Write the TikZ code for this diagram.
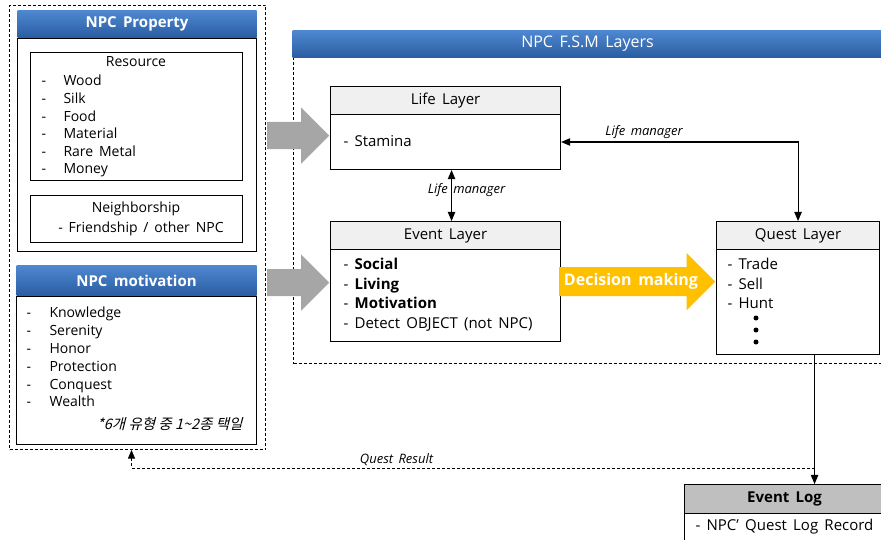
\documentclass[tikz,border=0pt]{standalone}
\usepackage{fontspec}
\setmainfont{Open Sans}[WordSpace=1.6]
\newfontfamily\krfont[FakeSlant=0.25]{Noto Sans CJK KR}
\usepackage{tikz}
\usetikzlibrary{shapes.arrows, arrows, positioning}

\definecolor{headtop}{RGB}{78,136,208}
\definecolor{headbot}{RGB}{42,93,162}
\definecolor{laygray}{RGB}{240,240,240}
\definecolor{loggray}{RGB}{191,191,191}
\definecolor{biggray}{RGB}{166,166,166}
\definecolor{decide}{RGB}{255,192,0}

\begin{document}
\begin{tikzpicture}[x=1pt, y=-1pt, line width=1.1pt,
  txt/.style={inner sep=0pt, text height=1.8ex, text depth=0pt, font=\fontsize{14}{16}\selectfont},
  item/.style={txt, anchor=west},
  bluehead/.style={rectangle, top color=headtop, bottom color=headbot, text=white, font=\bfseries\fontsize{15}{18}\selectfont, anchor=north west, inner sep=0pt},
  panel/.style={draw, rectangle, anchor=north west, inner sep=0pt},
  frame/.style={draw, line width=1pt, dash pattern=on 3pt off 2pt, rectangle, anchor=north west, inner sep=0pt},
  layhead/.style={draw, fill=laygray, rectangle, anchor=north, inner sep=0pt, minimum height=28pt, font=\fontsize{15}{17}\selectfont},
  laytxt/.style={item, font=\fontsize{15}{17}\selectfont},
  bigarr/.style={single arrow, fill=biggray, anchor=tip, inner xsep=0pt, inner ysep=13pt, minimum height=62pt, single arrow head extend=14.5pt},
  decarr/.style={single arrow, fill=decide, anchor=tip, inner xsep=0pt, inner ysep=14pt, minimum height=156pt, single arrow head extend=14pt},
  lbl/.style={inner sep=0pt, font=\itshape\fontsize{13}{15}\selectfont}
  ]
\useasboundingbox (0,0) rectangle (881,540);
\clip (0,0) rectangle (881,540);

% NPC property and motivation
\node[frame, minimum width=256pt, minimum height=444pt] (propframe) at (9,5) {};
\node[bluehead, minimum width=239pt, minimum height=27pt] (prophead) at (17,10) {NPC Property};
\node[panel, minimum width=239pt, minimum height=213pt, below=0pt of prophead] (propbody) {};
\node[panel, minimum width=212pt, minimum height=128pt] (resbox) at (30,52) {};
\node[txt] (restitle) at (136,62) {Resource};
\foreach \name [count=\i] in {Wood, Silk, Food, Material, Rare Metal, Money}
  \node[item] (res\i) at (41, 63.4+17.6*\i) {\makebox[22pt][l]{-}\name};
\node[panel, minimum width=212pt, minimum height=47pt] (nbbox) at (30,195) {};
\node[txt] (nbtitle) at (136,208) {Neighborship};
\node[txt] (nbitem) at (141,228) {- Friendship / other NPC};

\node[bluehead, minimum width=240pt, minimum height=30pt] (motihead) at (16,265) {NPC motivation};
\node[panel, minimum width=240pt, minimum height=148pt, below=0pt of motihead] (motibody) {};
\foreach \name [count=\i] in {Knowledge, Serenity, Honor, Protection, Conquest, Wealth}
  \node[item] (moti\i) at (26, 295.2+17.8*\i) {\makebox[23pt][l]{-}\name};
\node[inner sep=0pt, anchor=east, font=\krfont\fontsize{14.5}{16}\selectfont] (motinote) at (243,424) {*6개 유형 중 1\textasciitilde2종 택일};

% FSM layers
\node[frame, minimum width=592pt, minimum height=306pt] (fsmframe) at (293,57) {};
\node[bluehead, minimum width=590pt, minimum height=27pt, font=\fontsize{16}{18}\selectfont] (fsmhead) at (292,30) {NPC F.S.M Layers};

\node[panel, minimum width=230pt, minimum height=83pt] (lifelay) at (330,86) {};
\node[layhead, minimum width=230pt] (lifehead) at (lifelay.north) {Life Layer};
\node[laytxt] (stamina) at (343,142) {- Stamina};

\node[panel, minimum width=230pt, minimum height=120pt] (eventlay) at (330,221) {};
\node[layhead, minimum width=230pt] (eventhead) at (eventlay.north) {Event Layer};
\foreach \name/\y [count=\i] in {\textbf{Social}/265, \textbf{Living}/284.5, \textbf{Motivation}/304, Detect OBJECT (not NPC)/323.5}
  \node[laytxt] (ev\i) at (343,\y) {- \name};

\node[panel, minimum width=163pt, minimum height=133pt] (questlay) at (716,221) {};
\node[layhead, minimum width=163pt] (questhead) at (questlay.north) {Quest Layer};
\foreach \name/\y [count=\i] in {Trade/265, Sell/284.5, Hunt/304}
  \node[laytxt] (qu\i) at (727,\y) {- \name};
\foreach \y [count=\i] in {318, 330, 342}
  \node[circle, fill, inner sep=0pt, minimum size=5pt] (dot\i) at (756,\y) {};

\node[panel, minimum width=200pt, minimum height=80pt] (eventlog) at (684,484) {};
\node[layhead, fill=loggray, minimum width=200pt, minimum height=29pt, font=\bfseries\fontsize{15}{17}\selectfont] (loghead) at (eventlog.north) {Event Log};
\node[laytxt] (logitem) at (695,526) {- NPC' Quest Log Record};

% arrows
\node[bigarr] (proparrow) at ([yshift=-7.5pt]lifelay.west) {};
\node[bigarr] (motiarrow) at ([yshift=-1pt]eventlay.west) {};
\node[decarr] (decision) at (questlay.west |- eventlay.west) {};
\node[inner sep=0pt, text=white, font=\bfseries\fontsize{16}{18}\selectfont] (dectext) at (631,281) {Decision making};

\draw[triangle 45-triangle 45] (lifelay.east |- stamina.west) -| node[lbl, pos=0.175, above=3pt] {Life manager} (questlay.north);
\draw[triangle 45-triangle 45] ([xshift=6pt]lifelay.south) -- node[lbl, pos=0.4, xshift=15pt] {Life manager} ([xshift=6pt]eventlay.north);
\draw[-triangle 45] ([xshift=16.5pt]questlay.south) -- coordinate[pos=0.877] (qr) ([xshift=16.5pt]questlay.south |- eventlog.north);
\draw[line width=1pt, dash pattern=on 3pt off 2pt, -triangle 45] (qr) -| node[lbl, pos=0.306, above=2pt] {Quest Result} ([xshift=-6pt]propframe.south);
\end{tikzpicture}
\end{document}
